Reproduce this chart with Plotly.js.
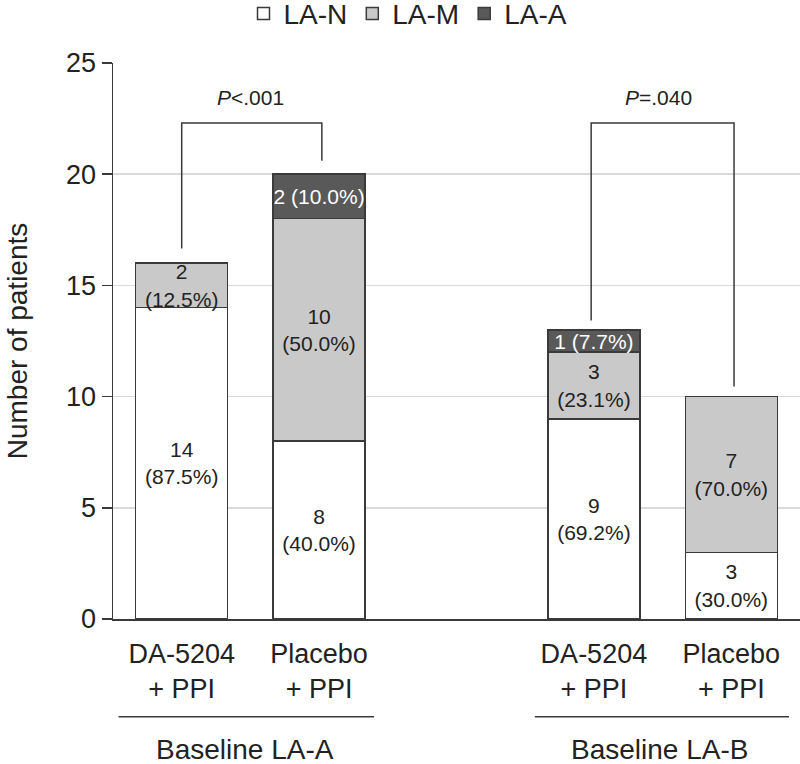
<!DOCTYPE html>
<html>
<head>
<meta charset="utf-8">
<script src="https://cdn.plot.ly/plotly-3.0.1.min.js"></script>
<style>html,body{margin:0;padding:0;background:#fff;}#chart{width:800px;height:764px;}</style>
</head>
<body>
<div id="chart"></div>
<script>
// ---- data ----
var barPositions = [0, 1, 3, 4];
var tickLabels = ["DA-5204<br>+ PPI", "Placebo<br>+ PPI", "DA-5204<br>+ PPI", "Placebo<br>+ PPI"];
var groupLabels = ["Baseline LA-A", "Baseline LA-B"];
var seriesNames = ["LA-N", "LA-M", "LA-A"];
var laN = [14, 8, 9, 3];
var laM = [2, 10, 3, 7];
var laA = [0, 2, 1, 0];
var laNText = ["14<br>(87.5%)", "8<br>(40.0%)", "9<br>(69.2%)", "3<br>(30.0%)"];
var laMText = ["2<br>(12.5%)", "10<br>(50.0%)", "3<br>(23.1%)", "7<br>(70.0%)"];
var laAText = ["", "2 (10.0%)", "1 (7.7%)", ""];
var pLabels = ["<i>P</i>&lt;.001", "<i>P</i>=.040"];

var FONT = "Liberation Sans, Arial, sans-serif";
var EDGE = "#3a3a3a";

function barTrace(name, y, text, fill, txtColor) {
  return {
    type: "bar", name: name, x: barPositions, y: y, text: text,
    texttemplate: "%{text}", textposition: "inside", insidetextanchor: "middle",
    textangle: 0, constraintext: "none",
    insidetextfont: {family: FONT, size: 21, color: txtColor},
    width: 0.67,
    marker: {color: fill, line: {color: EDGE, width: 1.5}},
    hoverinfo: "skip"
  };
}

var data = [
  barTrace(seriesNames[0], laN, laNText, "#ffffff", "#222222"),
  barTrace(seriesNames[1], laM, laMText, "#c9c9c9", "#222222"),
  barTrace(seriesNames[2], laA, laAText, "#595959", "#ffffff")
];

var lineStyle = {color: EDGE, width: 1.5};
var shapes = [
  {type: "path", xref: "x", yref: "y", path: "M 0 16.66 L 0 22.3 L 1.02 22.3 L 1.02 20.6", line: lineStyle},
  {type: "path", xref: "x", yref: "y", path: "M 2.98 13.42 L 2.98 22.3 L 4.02 22.3 L 4.02 10.45", line: lineStyle},
  {type: "line", xref: "x", yref: "paper", x0: -0.46, x1: 1.40, y0: -0.176, y1: -0.176, line: lineStyle},
  {type: "line", xref: "x", yref: "paper", x0: 2.57, x1: 4.42, y0: -0.176, y1: -0.176, line: lineStyle}
];

var annotations = [
  {xref: "x", yref: "y", x: 0.5, y: 23.45, text: pLabels[0], showarrow: false, font: {family: FONT, size: 21, color: "#222"}},
  {xref: "x", yref: "y", x: 3.47, y: 23.45, text: pLabels[1], showarrow: false, font: {family: FONT, size: 21, color: "#222"}},
  {xref: "x", yref: "paper", x: 0.46, y: -0.2356, yanchor: "middle", text: groupLabels[0], showarrow: false, font: {family: FONT, size: 28, color: "#222"}},
  {xref: "x", yref: "paper", x: 3.48, y: -0.2356, yanchor: "middle", text: groupLabels[1], showarrow: false, font: {family: FONT, size: 28, color: "#222"}}
];

var layout = {
  width: 800, height: 764,
  margin: {l: 113, r: 0, t: 63, b: 145},
  paper_bgcolor: "#fff", plot_bgcolor: "#fff",
  barmode: "stack",
  font: {family: FONT, color: "#222"},
  showlegend: true,
  legend: {orientation: "h", xref: "container", yref: "container", x: 0.51, xanchor: "center", y: 0.982, yanchor: "middle",
           font: {family: FONT, size: 28, color: "#222"}, itemwidth: 30, traceorder: "normal", tracegroupgap: 0},
  xaxis: {range: [-0.5, 4.5], tickvals: barPositions, ticktext: tickLabels, ticks: "", showgrid: false,
          zeroline: false, showline: true, linecolor: EDGE, linewidth: 1.5, ticklabelstandoff: 10,
          tickfont: {family: FONT, size: 27, color: "#222"}, fixedrange: true},
  yaxis: {range: [0, 25], dtick: 5, tick0: 0, ticks: "outside", ticklen: 10, tickcolor: EDGE, tickwidth: 1.5,
          showline: true, linecolor: EDGE, linewidth: 1.5, showgrid: true, gridcolor: "#dadada", gridwidth: 1.5,
          zeroline: false, tickfont: {family: FONT, size: 27, color: "#222"},
          title: {text: "Number of patients", font: {family: FONT, size: 28, color: "#222"}, standoff: 30}, fixedrange: true},
  shapes: shapes,
  annotations: annotations
};

Plotly.newPlot("chart", data, layout, {displayModeBar: false, staticPlot: true});
</script>
</body>
</html>
